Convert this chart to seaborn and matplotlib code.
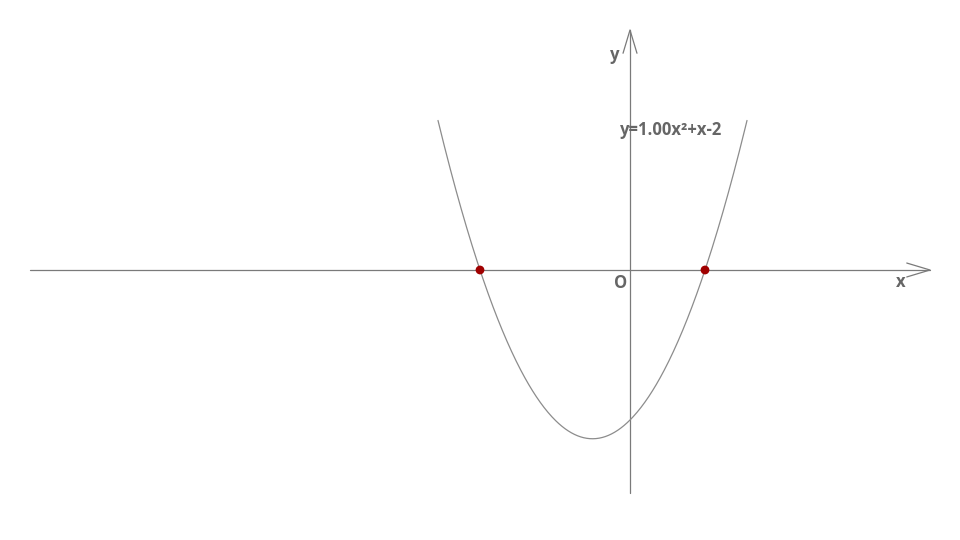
import numpy as np
import pandas as pd
import matplotlib
matplotlib.use("Agg")
import matplotlib.pyplot as plt
import seaborn as sns

sns.set_theme(style="white")
plt.rcParams['font.family'] = ['Open Sans', 'DejaVu Sans']

# quadratic y = a x^2 + b x + c
coef_a, coef_b, coef_c = 1.0, 1.0, -2.0
x_range = [-2.56, 1.56]          # drawn part of the curve
roots_x = [-2.0, 1.0]
roots_y = [0.0, 0.0]
label_text = "y=1.00x²+x-2"

axis_col = "#7a7a7a"
curve_col = "#8c8c8c"
text_col = "#666666"

xs = np.linspace(x_range[0], x_range[1], 400)
curve = pd.DataFrame({"x": xs, "y": coef_a * xs**2 + coef_b * xs + coef_c})
pts = pd.DataFrame({"x": roots_x, "y": roots_y})

fig = plt.figure(figsize=(9.6, 5.4), dpi=100)
ax = fig.add_axes([0, 0, 1, 1])
ax.set_xlim(-8.4, 4.4)
ax.set_ylim(-3.6, 3.6)
ax.axis("off")

# axes with open arrow heads
ax.plot([-8, 4], [0, 0], color=axis_col, lw=0.9)
ax.plot([3.69, 4, 3.69], [0.093, 0, -0.093], color=axis_col, lw=0.9)
ax.plot([0, 0], [-2.97, 3.2], color=axis_col, lw=0.9)
ax.plot([-0.093, 0, 0.093], [2.89, 3.2, 2.89], color=axis_col, lw=0.9)

sns.lineplot(data=curve, x="x", y="y", ax=ax, color=curve_col, lw=0.9, sort=False)
sns.scatterplot(data=pts, x="x", y="y", ax=ax, color="#a00000", s=40,
                edgecolor="none", zorder=5)

tk = dict(color=text_col, fontsize=12, fontweight="bold", va="center")
ax.text(-0.2, 2.87, "y", ha="center", **tk)
ax.text(3.61, -0.16, "x", ha="center", **tk)
ax.text(-0.12, -0.17, "O", ha="center", **tk)
ax.text(-0.14, 1.87, label_text, ha="left", **tk)

ax.set_xlabel("")
ax.set_ylabel("")
fig.savefig("out.png", dpi=100)
